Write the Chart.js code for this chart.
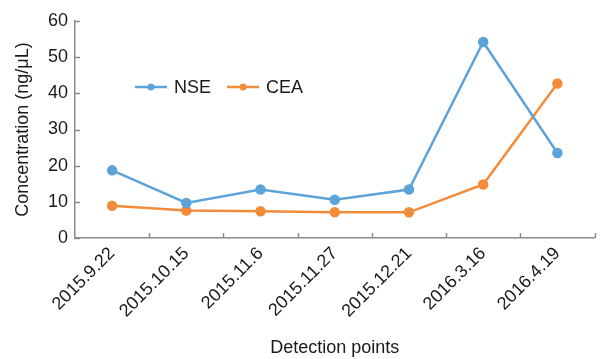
<!DOCTYPE html>
<html>
<head>
<meta charset="utf-8">
<script src="https://cdn.jsdelivr.net/npm/chart.js@4.4.0/dist/chart.umd.min.js"></script>
<style>
  html, body { margin: 0; padding: 0; background: #fff; }
  #wrap { width: 601px; height: 359px; }
</style>
</head>
<body>
<div id="wrap"><canvas id="chartConc"></canvas></div>
<script>
// detection dates
var detectionLabels = ['2015.9.22', '2015.10.15', '2015.11.6', '2015.11.27', '2015.12.21', '2016.3.16', '2016.4.19'];
// series values (ng/uL)
var nseValues = [18.7, 9.7, 13.4, 10.6, 13.4, 54.2, 23.5];
var ceaValues = [8.9, 7.6, 7.4, 7.1, 7.1, 14.8, 42.7];
// y axis ticks
var yTicks = [0, 10, 20, 30, 40, 50, 60];

var axisColor = '#8c8c8c';
var fontFamily = 'Arial, "Liberation Sans", sans-serif';

// inward tick marks + legend inside the plot
const innerTicks = {
    id: 'innerTicks',
    afterDraw: function (chart) {
        const { ctx, scales: { x, y } } = chart;
        ctx.save();
        ctx.strokeStyle = axisColor;
        ctx.lineWidth = 1.5;

        // y ticks pointing right
        yTicks.forEach((v) => {
            let py = Math.round(y.getPixelForValue(v)) + 0.5;
            ctx.beginPath();
            ctx.moveTo(x.left, py);
            ctx.lineTo(x.left + 5, py);
            ctx.stroke();
        });

        // x ticks between categories, pointing up
        let step = x.width / detectionLabels.length;
        for (let i = 1; i <= detectionLabels.length; i++) {
            let px = Math.round(x.left + i * step) + 0.5;
            ctx.beginPath();
            ctx.moveTo(px, y.bottom);
            ctx.lineTo(px, y.bottom - 5);
            ctx.stroke();
        }

        // legend
        const items = [
            { text: 'NSE', color: chart.data.datasets[0].borderColor, x0: 135 },
            { text: 'CEA', color: chart.data.datasets[1].borderColor, x0: 227 }
        ];
        let ly = 87;
        ctx.font = '18px ' + fontFamily;
        ctx.textBaseline = 'middle';
        ctx.textAlign = 'left';
        items.forEach((it) => {
            ctx.strokeStyle = it.color;
            ctx.lineWidth = 2.5;
            ctx.beginPath();
            ctx.moveTo(it.x0, ly);
            ctx.lineTo(it.x0 + 32, ly);
            ctx.stroke();
            ctx.fillStyle = it.color;
            ctx.beginPath();
            ctx.arc(it.x0 + 16, ly, 3.5, 0, Math.PI * 2);
            ctx.fill();
            ctx.fillStyle = '#1a1a1a';
            ctx.fillText(it.text, it.x0 + 39, ly + 1);
        });
        ctx.restore();
    }
};

let ctx_conc = document.getElementById('chartConc').getContext('2d');

let concChart = new Chart(ctx_conc, {
    type: 'line',
    data: {
        labels: detectionLabels,
        datasets: [
            {
                label: 'NSE',
                data: nseValues,
                borderColor: '#5ca3da',
                backgroundColor: '#5ca3da',
                borderWidth: 2.5,
                pointRadius: 4,
                pointHoverRadius: 4,
                tension: 0
            },
            {
                label: 'CEA',
                data: ceaValues,
                borderColor: '#f38c3a',
                backgroundColor: '#f38c3a',
                borderWidth: 2.5,
                pointRadius: 4,
                pointHoverRadius: 4,
                tension: 0
            }
        ]
    },
    plugins: [innerTicks],
    options: {
        responsive: true,
        maintainAspectRatio: false,
        animation: false,
        layout: {
            padding: { top: 21, right: 3, left: 0, bottom: 0 }
        },
        plugins: {
            legend: { display: false },
            tooltip: { enabled: false }
        },
        scales: {
            x: {
                offset: true,
                grid: { display: false, offset: true, drawTicks: false },
                border: { color: axisColor, width: 1.5 },
                ticks: {
                    color: '#1a1a1a',
                    font: { size: 18, family: fontFamily },
                    minRotation: 45,
                    maxRotation: 45,
                    padding: 5,
                    autoSkip: false
                },
                title: {
                    display: true,
                    text: 'Detection points',
                    color: '#1a1a1a',
                    font: { size: 18, family: fontFamily },
                    padding: { top: 4, bottom: 0 }
                },
                afterFit: function (scale) { scale.height = 121; }
            },
            y: {
                min: 0,
                max: 60,
                grid: { display: false, drawTicks: false },
                border: { color: axisColor, width: 1.5 },
                ticks: {
                    stepSize: 10,
                    color: '#1a1a1a',
                    font: { size: 18, family: fontFamily },
                    padding: 7
                },
                title: {
                    display: true,
                    text: 'Concentration (ng/μL)',
                    color: '#1a1a1a',
                    font: { size: 18, family: fontFamily },
                    padding: { top: 12, bottom: 4 }
                },
                afterFit: function (scale) { scale.width = 75; }
            }
        }
    }
});
</script>
</body>
</html>
